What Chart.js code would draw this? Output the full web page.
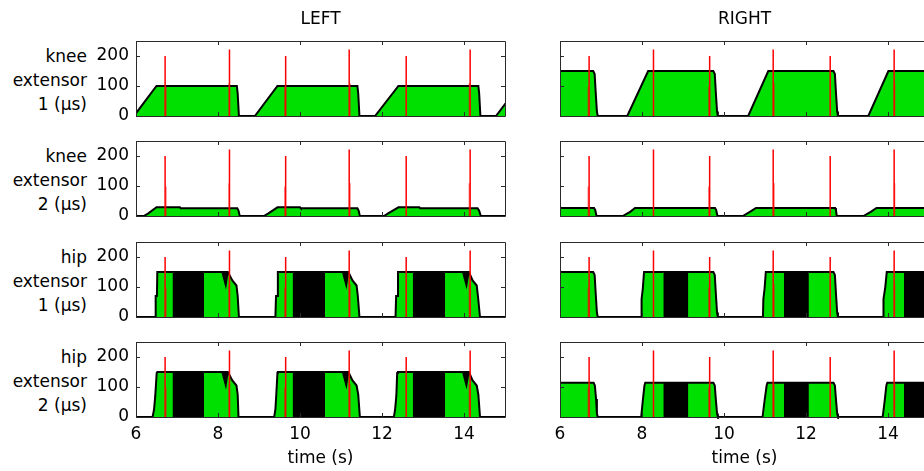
<!DOCTYPE html>
<html>
<head>
<meta charset="utf-8">
<script src="https://cdn.jsdelivr.net/npm/chart.js@4.4.1/dist/chart.umd.min.js"></script>
<style>
  html, body { margin: 0; padding: 0; background: #fff; overflow: hidden; }
  #fig { position: relative; width: 924px; height: 471px; overflow: hidden; background: #fff; }
  #fig canvas { position: absolute; }
  .rowlab { position: absolute; left: 0; width: 87px; text-align: right; font-family: "DejaVu Sans", sans-serif;
            font-size: 17px; line-height: 24px; color: #000; white-space: nowrap; }
</style>
</head>
<body>
<div id="fig"></div>
<script>
// ---- axis ticks and labels ----
const xTicks = [6, 8, 10, 12, 14];
const yTicks = [0, 100, 200];
const columnTitles = ['LEFT', 'RIGHT'];
const rowLabels = [
  ['knee', 'extensor', '1 (\u03bcs)'],
  ['knee', 'extensor', '2 (\u03bcs)'],
  ['hip', 'extensor', '1 (\u03bcs)'],
  ['hip', 'extensor', '2 (\u03bcs)']
];
const xTitle = 'time (s)';

// ---- gait event markers (s) ----
const eventTimes   = [6.71, 8.28, 9.65, 11.20, 12.59, 14.15];
const eventHeights = [200, 222, 200, 222, 200, 222];
const contactTimesLeft    = [6.73, 8.27, 9.63, 11.22, 14.13];
const contactHeightsLeft  = [98, 109, 98, 109, 109];
const contactTimesRight   = [6.69, 9.63, 11.22, 14.16];
const contactHeightsRight = [98, 98, 109, 109];

// ---- pulse width envelopes (time s, width us) ----
const kneeExt1LeftT = [5.95, 6.50, 8.46, 8.48, 8.51, 8.90, 9.45, 11.40, 11.42, 11.45, 11.83, 12.40, 14.35, 14.37, 14.40, 14.78, 15.20];
const kneeExt1LeftV = [0, 100, 100, 75, 0, 0, 100, 100, 75, 0, 0, 100, 100, 75, 0, 0, 76];

const kneeExt1RightT = [5.90, 6.81, 6.845, 6.87, 6.90, 6.92, 7.64, 8.15, 9.74, 9.775, 9.80, 9.83, 9.85, 10.59, 11.08, 12.67, 12.705, 12.73, 12.76, 12.78, 13.52, 14.01, 15.20];
const kneeExt1RightV = [150, 150, 140, 80, 15, 0, 0, 150, 150, 140, 80, 15, 0, 0, 150, 150, 140, 80, 15, 0, 0, 150, 150];

const kneeExt2LeftT = [5.90, 6.19, 6.30, 6.50, 7.07, 7.09, 8.47, 8.50, 8.53, 9.12, 9.23, 9.45, 10.00, 10.02, 11.40, 11.43, 11.46, 12.05, 12.15, 12.40, 12.91, 12.93, 14.33, 14.37, 14.41, 15.20];
const kneeExt2LeftV = [0, 0, 9, 29, 29, 26, 26, 18, 0, 0, 9, 29, 29, 26, 26, 18, 0, 0, 9, 29, 29, 26, 26, 18, 0, 0];

const kneeExt2RightT = [5.90, 6.83, 6.86, 6.89, 7.53, 7.71, 7.83, 9.78, 9.81, 9.84, 10.46, 10.63, 10.78, 12.71, 12.73, 12.75, 13.40, 13.58, 13.72, 15.20];
const kneeExt2RightV = [27, 27, 20, 0, 0, 14, 27, 27, 20, 0, 0, 14, 27, 27, 20, 0, 0, 14, 27, 27];

const hipExt1LeftT = [5.90, 6.47, 6.48, 6.51, 6.52, 8.24, 8.35, 8.45, 8.48, 8.51,
                      9.40, 9.415, 9.445, 9.46, 11.18, 11.28, 11.38, 11.41, 11.45,
                      12.33, 12.345, 12.37, 12.39, 14.12, 14.21, 14.31, 14.34, 14.39, 15.20];
const hipExt1LeftV = [0, 0, 70, 70, 150, 150, 122, 105, 70, 0,
                      0, 70, 70, 150, 150, 122, 105, 70, 0,
                      0, 70, 70, 150, 150, 122, 105, 70, 0, 0];

const hipExt2LeftT = [5.90, 6.405, 6.44, 6.47, 6.505, 6.52, 8.24, 8.35, 8.45, 8.48, 8.50,
                      9.37, 9.40, 9.42, 9.45, 9.46, 11.18, 11.28, 11.38, 11.42, 11.46,
                      12.29, 12.32, 12.35, 12.37, 12.39, 14.12, 14.21, 14.31, 14.35, 14.39, 15.20];
const hipExt2LeftV = [0, 0, 25, 71, 147, 150, 150, 122, 105, 75, 0,
                      0, 25, 71, 147, 150, 150, 122, 105, 75, 0,
                      0, 25, 71, 147, 150, 150, 122, 105, 75, 0, 0];

const hipExt1RightT = [5.90, 6.81, 6.845, 6.87, 6.90, 6.92,
                       7.98, 7.99, 8.02, 8.05, 9.74, 9.775, 9.80, 9.83, 9.85,
                       10.95, 10.96, 10.99, 11.02, 12.67, 12.705, 12.73, 12.76, 12.78,
                       13.88, 13.89, 13.93, 13.97, 15.20];
const hipExt1RightV = [150, 150, 140, 80, 15, 0,
                       0, 60, 95, 150, 150, 140, 80, 15, 0,
                       0, 60, 95, 150, 150, 140, 80, 15, 0,
                       0, 60, 95, 150, 150];

const hipExt2RightT = [5.90, 6.82, 6.85, 6.88, 6.90, 6.92,
                       7.98, 8.02, 8.06, 8.08, 9.74, 9.775, 9.80, 9.83, 9.85,
                       10.94, 10.99, 11.04, 11.06, 12.67, 12.705, 12.73, 12.76, 12.78,
                       13.87, 13.92, 13.96, 13.98, 15.20];
const hipExt2RightV = [114, 114, 105, 60, 12, 0,
                       0, 55, 105, 114, 114, 105, 60, 12, 0,
                       0, 55, 105, 114, 114, 105, 60, 12, 0,
                       0, 55, 105, 114, 114];

// ---- stimulation-off intervals (black) on the hip extensors ----
const hipLeftOffStart = [6.89, 9.82, 12.75];
const hipLeftOffEnd   = [7.66, 10.61, 13.54];
const hipLeftLevel    = 150;
const hipLeftNotchStart = [8.10, 11.04, 13.97];
const hipLeftNotchLow   = [8.19, 11.13, 14.06];
const hipLeftNotchEnd   = [8.24, 11.18, 14.12];
const hipLeftNotchDepth = 103;

const hipRightOffStart = [8.52, 11.46, 14.39];
const hipRightOffEnd   = [9.13, 12.07, 15.20];
const hipExt1RightLevel = 150;
const hipExt2RightLevel = 114;

// ---- styling ----
const FONT = '"DejaVu Sans", sans-serif';
const GREEN = 'rgb(0,224,0)';
Chart.defaults.font.family = FONT;
Chart.defaults.color = '#000';

const axisTops = [41, 141, 242, 342];
const axisH = 75;
const colAxisLeft = [136, 560];
const colAxisRight = [505, 929];
const colCanvasLeft = [0, 520];

// ---- helpers that turn value arrays into chart points ----
function curve(ts, vs) { return ts.map((t, i) => ({ x: t, y: vs[i] })); }
function blocks(starts, ends, level) {
  const pts = [];
  starts.forEach((s, i) => pts.push({ x: s, y: level }, { x: ends[i], y: level }, { x: ends[i], y: null }));
  return pts;
}
function notches(starts, lows, ends, depth, level) {
  const pts = [];
  starts.forEach((s, i) => pts.push({ x: s, y: level }, { x: lows[i], y: depth }, { x: ends[i], y: level }, { x: ends[i], y: null }));
  return pts;
}
function sticks(times, heights) {
  const pts = [];
  times.forEach((t, i) => pts.push({ x: t, y: 0 }, { x: t, y: heights[i] }, { x: t, y: null }));
  return pts;
}

// box frame with inward ticks on every side
const framePlugin = {
  id: 'frame',
  afterDatasetsDraw(chart) {
    const { ctx, chartArea: a, scales } = chart;
    const x = scales.x, y = scales.y;
    ctx.save();
    ctx.strokeStyle = '#2a2a2a';
    ctx.lineWidth = 1;
    ctx.beginPath();
    ctx.rect(a.left + 0.5, a.top + 0.5, a.right - a.left, a.bottom - a.top);
    xTicks.forEach(v => {
      const px = Math.round(x.getPixelForValue(v)) + 0.5;
      ctx.moveTo(px, a.top); ctx.lineTo(px, a.top + 4);
      ctx.moveTo(px, a.bottom); ctx.lineTo(px, a.bottom - 4);
    });
    yTicks.forEach(v => {
      const py = Math.round(y.getPixelForValue(v)) + 0.5;
      ctx.moveTo(a.left, py); ctx.lineTo(a.left + 4, py);
      ctx.moveTo(a.right, py); ctx.lineTo(a.right - 4, py);
    });
    ctx.stroke();
    ctx.restore();
  }
};

const panels = [
  { row: 0, col: 0, env: curve(kneeExt1LeftT, kneeExt1LeftV) },
  { row: 0, col: 1, env: curve(kneeExt1RightT, kneeExt1RightV) },
  { row: 1, col: 0, env: curve(kneeExt2LeftT, kneeExt2LeftV) },
  { row: 1, col: 1, env: curve(kneeExt2RightT, kneeExt2RightV) },
  { row: 2, col: 0, env: curve(hipExt1LeftT, hipExt1LeftV),
    off: blocks(hipLeftOffStart, hipLeftOffEnd, hipLeftLevel),
    notch: notches(hipLeftNotchStart, hipLeftNotchLow, hipLeftNotchEnd, hipLeftNotchDepth, hipLeftLevel), level: hipLeftLevel },
  { row: 2, col: 1, env: curve(hipExt1RightT, hipExt1RightV),
    off: blocks(hipRightOffStart, hipRightOffEnd, hipExt1RightLevel) },
  { row: 3, col: 0, env: curve(hipExt2LeftT, hipExt2LeftV),
    off: blocks(hipLeftOffStart, hipLeftOffEnd, hipLeftLevel),
    notch: notches(hipLeftNotchStart, hipLeftNotchLow, hipLeftNotchEnd, hipLeftNotchDepth, hipLeftLevel), level: hipLeftLevel },
  { row: 3, col: 1, env: curve(hipExt2RightT, hipExt2RightV),
    off: blocks(hipRightOffStart, hipRightOffEnd, hipExt2RightLevel) }
];

const fig = document.getElementById('fig');

// row labels at the left of each row
rowLabels.forEach((lines, r) => {
  const d = document.createElement('div');
  d.className = 'rowlab';
  d.style.top = (axisTops[r] + axisH / 2 - 35) + 'px';
  d.innerHTML = lines.join('<br>');
  fig.appendChild(d);
});

panels.forEach(p => {
  const isTop = p.row === 0;
  const isBottom = p.row === 3;
  const padTop = isTop ? 0 : 5;
  const xH = isBottom ? 471 - (axisTops[3] + axisH) : 12;
  const canvasTop = isTop ? 0 : axisTops[p.row] - padTop;
  const canvasH = (isTop ? 41 : padTop) + axisH + xH;
  const canvasLeft = colCanvasLeft[p.col];
  const yW = colAxisLeft[p.col] - canvasLeft;
  const canvasW = colAxisRight[p.col] + 5 - canvasLeft;

  const cv = document.createElement('canvas');
  cv.width = canvasW; cv.height = canvasH;
  cv.style.left = canvasLeft + 'px';
  cv.style.top = canvasTop + 'px';
  cv.style.width = canvasW + 'px';
  cv.style.height = canvasH + 'px';
  fig.appendChild(cv);

  const contactT = p.col === 0 ? contactTimesLeft : contactTimesRight;
  const contactH = p.col === 0 ? contactHeightsLeft : contactHeightsRight;

  const common = { pointRadius: 0, tension: 0, spanGaps: false, borderCapStyle: 'butt' };
  const datasets = [
    Object.assign({ data: p.env, borderColor: '#000', borderWidth: 2, backgroundColor: GREEN,
      fill: 'origin', order: 4, clip: { left: 0, top: 0, right: 0, bottom: 2 }, borderJoinStyle: 'miter' }, common)
  ];
  if (p.off) {
    datasets.push(Object.assign({ data: p.off, borderColor: '#000', borderWidth: 1, backgroundColor: '#000',
      fill: 'origin', order: 3 }, common));
  }
  if (p.notch) {
    datasets.push(Object.assign({ data: p.notch, borderColor: '#000', borderWidth: 1.5, backgroundColor: '#000',
      fill: { value: p.level }, order: 2 }, common));
  }
  datasets.push(Object.assign({ data: sticks(contactT, contactH), borderColor: 'rgba(255,0,0,0.5)', borderWidth: 1.5,
    fill: false, order: 1 }, common));
  datasets.push(Object.assign({ data: sticks(eventTimes, eventHeights), borderColor: '#ff0000', borderWidth: 1.5,
    fill: false, order: 0 }, common));

  new Chart(cv, {
    type: 'line',
    data: { datasets },
    options: {
      responsive: false,
      animation: false,
      events: [],
      layout: { padding: { top: padTop, right: 5, bottom: 0, left: 0 } },
      plugins: {
        legend: { display: false },
        tooltip: { enabled: false },
        title: {
          display: isTop,
          text: columnTitles[p.col],
          fullSize: false,
          color: '#000',
          font: { family: FONT, size: 17, weight: 'normal', lineHeight: '20px' },
          padding: { top: 10, bottom: 11 }
        }
      },
      scales: {
        x: {
          type: 'linear', min: 6, max: 15,
          afterBuildTicks: s => { s.ticks = xTicks.map(v => ({ value: v })); },
          afterFit: s => { s.height = xH; s.paddingLeft = 0; s.paddingRight = 0; },
          grid: { display: false, drawTicks: false },
          border: { display: false },
          ticks: { display: isBottom, padding: 8, autoSkip: false, maxRotation: 0, color: '#000',
                   font: { family: FONT, size: 17, lineHeight: '20px' }, callback: v => String(v) },
          title: { display: isBottom, text: xTitle, color: '#000',
                   font: { family: FONT, size: 17, lineHeight: '20px' }, padding: { top: 0, bottom: 2 } }
        },
        y: {
          type: 'linear', min: 0, max: 250,
          afterBuildTicks: s => { s.ticks = yTicks.map(v => ({ value: v })); },
          afterFit: s => { s.width = yW; s.paddingTop = 0; s.paddingBottom = 0; },
          grid: { display: false, drawTicks: false },
          border: { display: false },
          ticks: { display: p.col === 0, padding: 7, autoSkip: false, color: '#000',
                   font: { family: FONT, size: 17, lineHeight: '20px' }, callback: v => String(v) }
        }
      }
    },
    plugins: [framePlugin]
  });
});
</script>
</body>
</html>
